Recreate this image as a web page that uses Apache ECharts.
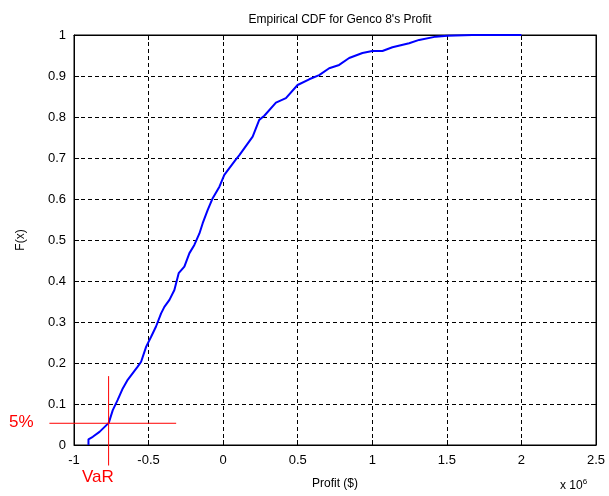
<!DOCTYPE html>
<html>
<head>
<meta charset="utf-8">
<script src="https://cdn.jsdelivr.net/npm/echarts@6/dist/echarts.min.js"></script>
<style>
html, body { margin: 0; padding: 0; background: #fff; }
#chart { width: 609px; height: 496px; }
</style>
</head>
<body>
<div id="chart"></div>
<script>
// empirical CDF (profit in 10^6 $)
var profit = [-0.903, -0.903, -0.874, -0.829, -0.767, -0.74, -0.707, -0.673, -0.64, -0.573,
    -0.55, -0.516, -0.483, -0.45, -0.416, -0.394, -0.36, -0.327, -0.298, -0.26,
    -0.226, -0.193, -0.159, -0.137, -0.104, -0.07, -0.025, 0.008, 0.082, 0.109,
    0.198, 0.242, 0.276, 0.354, 0.421, 0.499, 0.577, 0.644, 0.711, 0.778,
    0.845, 0.934, 1.0, 1.068, 1.135, 1.247, 1.314, 1.426, 1.504, 1.671, 2.0];
var cdf = [0, 0.014, 0.02, 0.032, 0.054, 0.085, 0.11, 0.138, 0.159, 0.191,
    0.203, 0.24, 0.264, 0.289, 0.321, 0.337, 0.354, 0.378, 0.419, 0.435,
    0.468, 0.488, 0.516, 0.541, 0.573, 0.602, 0.63, 0.659, 0.695, 0.707,
    0.752, 0.793, 0.803, 0.835, 0.846, 0.878, 0.892, 0.902, 0.919, 0.927,
    0.944, 0.956, 0.961, 0.961, 0.97, 0.98, 0.988, 0.996, 0.998, 1, 1];

// VaR cross-hair: [x1, y1, x2, y2] in data units
var varX = -0.768;
var varLevel = 0.053;
var crossLines = [
    [-1.165, varLevel, -0.315, varLevel],
    [varX, 0.168, varX, -0.05]
];

var xTicks = [-1, -0.5, 0, 0.5, 1, 1.5, 2, 2.5];
var yTicks = [0, 0.1, 0.2, 0.3, 0.4, 0.5, 0.6, 0.7, 0.8, 0.9, 1];

var curve = profit.map(function (x, i) { return [x, cdf[i]]; });

var font = 'Liberation Sans, Arial, sans-serif';
var myChart = echarts.init(document.getElementById('chart'));
var tickStyle = { inside: true, length: 5, lineStyle: { color: '#000' } };
var gridLine = { show: true, lineStyle: { color: '#000', type: [4, 3], width: 1 } };
var axisLine = { show: true, onZero: false, lineStyle: { color: '#000' } };

option = {
    animation: false,
    backgroundColor: '#fff',
    title: {
        text: "Empirical CDF for Genco 8's Profit",
        left: 335, top: 9, textAlign: 'center',
        textStyle: { fontFamily: font, fontSize: 12, fontWeight: 'normal', color: '#000' }
    },
    grid: {
        left: 74, right: 13, top: 35, bottom: 51,
        show: true, borderColor: '#000', borderWidth: 1
    },
    xAxis: [{
        type: 'value',
        min: xTicks[0], max: xTicks[xTicks.length - 1], interval: 0.5,
        name: 'Profit ($)', nameLocation: 'middle', nameGap: 33,
        nameTextStyle: { fontFamily: font, fontSize: 12, color: '#000' },
        axisLine: axisLine,
        axisTick: tickStyle,
        axisLabel: { fontFamily: font, fontSize: 13, color: '#000', margin: 9 },
        splitLine: gridLine
    }, {
        type: 'value', position: 'top',
        min: xTicks[0], max: xTicks[xTicks.length - 1], interval: 0.5,
        axisLine: axisLine,
        axisTick: tickStyle, axisLabel: { show: false }, splitLine: { show: false }
    }],
    yAxis: [{
        type: 'value',
        min: yTicks[0], max: yTicks[yTicks.length - 1], interval: 0.1,
        name: 'F(x)', nameLocation: 'middle', nameGap: 47,
        nameTextStyle: { fontFamily: font, fontSize: 12, color: '#000' },
        axisLine: axisLine,
        axisTick: tickStyle,
        axisLabel: { fontFamily: font, fontSize: 13, color: '#000', margin: 8 },
        splitLine: gridLine
    }, {
        type: 'value', position: 'right',
        min: yTicks[0], max: yTicks[yTicks.length - 1], interval: 0.1,
        axisLine: axisLine,
        axisTick: tickStyle, axisLabel: { show: false }, splitLine: { show: false }
    }],
    graphic: [{
        type: 'text', left: 560, top: 478,
        style: {
            text: 'x 10{s|6}', fill: '#000', font: '12px ' + font,
            rich: { s: { fontSize: 8, verticalAlign: 'top', padding: [0, 0, 8, 0] } }
        }
    }, {
        type: 'text', left: 9, top: 414,
        style: { text: '5%', fill: '#ff0000', font: '17px ' + font }
    }, {
        type: 'text', left: 82, top: 469,
        style: { text: 'VaR', fill: '#ff0000', font: '17px ' + font }
    }],
    series: [{
        type: 'line',
        data: curve,
        showSymbol: false,
        lineStyle: { color: '#0000ff', width: 2 },
        z: 5
    }, {
        type: 'custom',
        clip: false,
        z: 6,
        data: crossLines,
        encode: { x: [0, 2], y: [1, 3] },
        renderItem: function (params, api) {
            var a = api.coord([api.value(0), api.value(1)]);
            var b = api.coord([api.value(2), api.value(3)]);
            return {
                type: 'line',
                shape: { x1: a[0], y1: a[1], x2: b[0], y2: b[1] },
                style: { stroke: '#ff0000', lineWidth: 1 }
            };
        }
    }]
};
myChart.setOption(option);
</script>
</body>
</html>
